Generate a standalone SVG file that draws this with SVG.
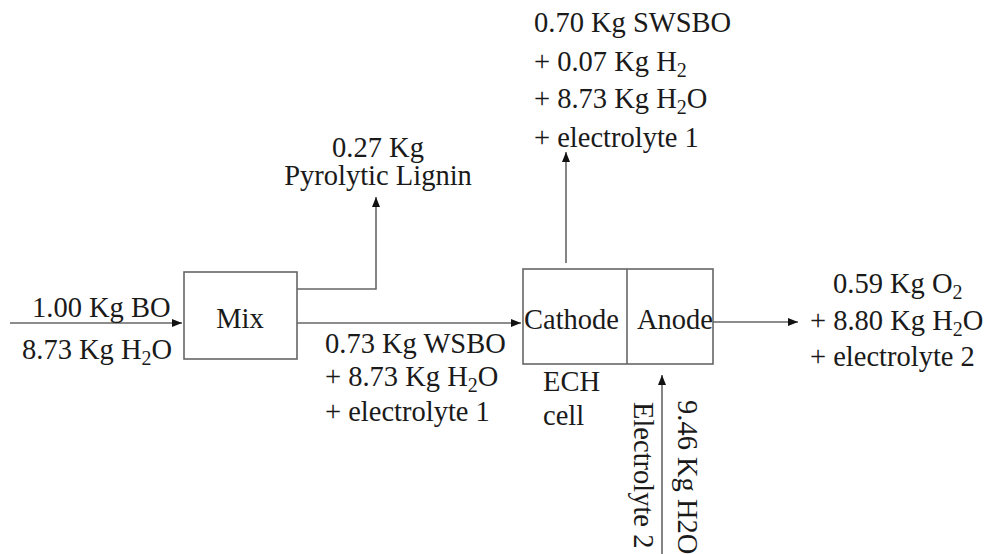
<svg xmlns="http://www.w3.org/2000/svg" width="991" height="554" viewBox="0 0 991 554">
<defs>
<marker id="ah" viewBox="0 0 10 8" refX="10" refY="4" markerWidth="10" markerHeight="8" markerUnits="userSpaceOnUse" orient="auto">
<path d="M0,0 L10,4 L0,8 z" fill="#111"/>
</marker>
<style>
text{font-family:"Liberation Serif","Times New Roman",serif;font-size:28.5px;fill:#1a1a1a}
.sub{font-size:20px}
.box{fill:#fff;stroke:#666;stroke-width:1.6}
.ln{fill:none;stroke:#666;stroke-width:1.6}
</style>
</defs>
<rect width="991" height="554" fill="#fff"/>
<g id="connectors">
<path class="ln" d="M10,323 H182" marker-end="url(#ah)"/>
<path class="ln" d="M297,289 H376 V197" marker-end="url(#ah)"/>
<path class="ln" d="M297,323 H521" marker-end="url(#ah)"/>
<path class="ln" d="M566,263 V152" marker-end="url(#ah)"/>
<path class="ln" d="M713,322 H798" marker-end="url(#ah)"/>
<path class="ln" d="M662,554 V375" marker-end="url(#ah)"/>
</g>
<g id="mix">
<rect class="box" x="184" y="272" width="113" height="87"/>
<text x="240" y="328" text-anchor="middle">Mix</text>
</g>
<g id="ech">
<rect class="box" x="523" y="269" width="190" height="95"/>
<line class="ln" x1="627" y1="269" x2="627" y2="364"/>
<text x="524" y="329">Cathode</text>
<text x="637" y="329">Anode</text>
<text x="543" y="391">ECH</text>
<text x="543" y="425">cell</text>
</g>
<g id="labels">
<text x="32" y="317">1.00 Kg BO</text>
<text x="22" y="359">8.73 Kg H<tspan class="sub" dy="6">2</tspan><tspan dy="-6">O</tspan></text>
<text x="378" y="157" text-anchor="middle">0.27 Kg</text>
<text x="378" y="185" text-anchor="middle">Pyrolytic Lignin</text>
<text x="534" y="32">0.70 Kg SWSBO</text>
<text x="534" y="71">+ 0.07 Kg H<tspan class="sub" dy="6">2</tspan></text>
<text x="534" y="108">+ 8.73 Kg H<tspan class="sub" dy="6">2</tspan><tspan dy="-6">O</tspan></text>
<text x="534" y="147">+ electrolyte 1</text>
<text x="325" y="353">0.73 Kg WSBO</text>
<text x="325" y="386">+ 8.73 Kg H<tspan class="sub" dy="6">2</tspan><tspan dy="-6">O</tspan></text>
<text x="325" y="421">+ electrolyte 1</text>
<text x="833" y="293">0.59 Kg O<tspan class="sub" dy="6">2</tspan></text>
<text x="810" y="330">+ 8.80 Kg H<tspan class="sub" dy="6">2</tspan><tspan dy="-6">O</tspan></text>
<text x="810" y="366">+ electrolyte 2</text>
<text transform="translate(634,402) rotate(90)">Electrolyte 2</text>
<text transform="translate(678,400) rotate(90)">9.46 Kg H2O</text>
</g>
</svg>
